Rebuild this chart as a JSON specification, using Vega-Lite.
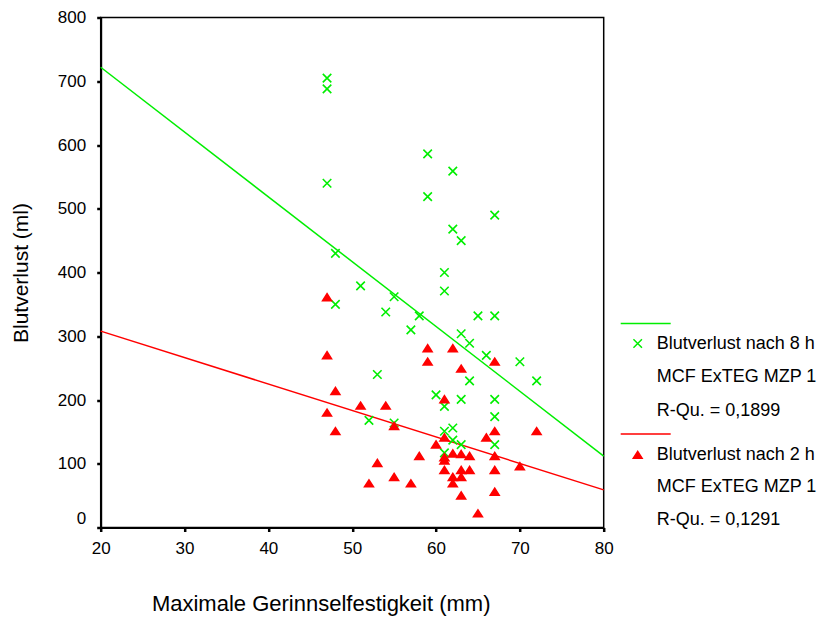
{
  "$schema": "https://vega.github.io/schema/vega-lite/v6.json",
  "width": 503,
  "height": 510,
  "autosize": {"type": "none"},
  "padding": {"left": 100.7, "top": 17.5, "right": 219.3, "bottom": 90.5},
  "background": "white",
  "config": {
    "font": "Liberation Sans",
    "view": {"stroke": "black", "strokeWidth": 1.5},
    "axis": {"grid": false, "domainColor": "black", "domainWidth": 2, "tickColor": "black", "tickWidth": 2.5, "tickSize": 4, "labelFontSize": 17, "labelColor": "black", "labelFont": "Liberation Sans", "titleFont": "Liberation Sans", "titleFontWeight": "normal", "titleColor": "black", "titleFontSize": 21, "labelFlush": false},
    "legend": {"orient": "none", "legendX": 528, "legendY": 317, "padding": 0, "labelFontSize": 18, "labelFont": "Liberation Sans", "labelColor": "black", "labelOffset": 10, "labelLimit": 400, "rowPadding": 7.5, "symbolSize": 100, "symbolStrokeWidth": 1.5, "symbolOpacity": 1}
  },
  "datasets": {
    "punkte": [
      {"mcf": 47, "blut": 705, "serie": "8 h"}, {"mcf": 47, "blut": 688, "serie": "8 h"}, {"mcf": 47, "blut": 540, "serie": "8 h"}, {"mcf": 59, "blut": 586, "serie": "8 h"},
      {"mcf": 62, "blut": 559, "serie": "8 h"}, {"mcf": 59, "blut": 519, "serie": "8 h"}, {"mcf": 67, "blut": 490, "serie": "8 h"}, {"mcf": 62, "blut": 468, "serie": "8 h"},
      {"mcf": 63, "blut": 450, "serie": "8 h"}, {"mcf": 48, "blut": 430, "serie": "8 h"}, {"mcf": 61, "blut": 400, "serie": "8 h"}, {"mcf": 61, "blut": 371, "serie": "8 h"},
      {"mcf": 51, "blut": 379, "serie": "8 h"}, {"mcf": 55, "blut": 362, "serie": "8 h"}, {"mcf": 48, "blut": 350, "serie": "8 h"}, {"mcf": 54, "blut": 338, "serie": "8 h"},
      {"mcf": 58, "blut": 332, "serie": "8 h"}, {"mcf": 65, "blut": 332, "serie": "8 h"}, {"mcf": 67, "blut": 332, "serie": "8 h"}, {"mcf": 57, "blut": 310, "serie": "8 h"},
      {"mcf": 63, "blut": 304, "serie": "8 h"}, {"mcf": 64, "blut": 289, "serie": "8 h"}, {"mcf": 66, "blut": 270, "serie": "8 h"}, {"mcf": 70, "blut": 260, "serie": "8 h"},
      {"mcf": 53, "blut": 240, "serie": "8 h"}, {"mcf": 64, "blut": 230, "serie": "8 h"}, {"mcf": 72, "blut": 230, "serie": "8 h"}, {"mcf": 60, "blut": 208, "serie": "8 h"},
      {"mcf": 63, "blut": 201, "serie": "8 h"}, {"mcf": 67, "blut": 201, "serie": "8 h"}, {"mcf": 61, "blut": 190, "serie": "8 h"}, {"mcf": 67, "blut": 174, "serie": "8 h"},
      {"mcf": 52, "blut": 168, "serie": "8 h"}, {"mcf": 55, "blut": 164, "serie": "8 h"}, {"mcf": 62, "blut": 156, "serie": "8 h"}, {"mcf": 61, "blut": 151, "serie": "8 h"},
      {"mcf": 62, "blut": 137, "serie": "8 h"}, {"mcf": 63, "blut": 130, "serie": "8 h"}, {"mcf": 67, "blut": 130, "serie": "8 h"}, {"mcf": 61, "blut": 117, "serie": "8 h"},
      {"mcf": 47, "blut": 361, "serie": "2 h"}, {"mcf": 47, "blut": 270, "serie": "2 h"}, {"mcf": 59, "blut": 281, "serie": "2 h"}, {"mcf": 62, "blut": 281, "serie": "2 h"},
      {"mcf": 59, "blut": 260, "serie": "2 h"}, {"mcf": 67, "blut": 260, "serie": "2 h"}, {"mcf": 63, "blut": 249, "serie": "2 h"}, {"mcf": 48, "blut": 214, "serie": "2 h"},
      {"mcf": 61, "blut": 201, "serie": "2 h"}, {"mcf": 51, "blut": 191, "serie": "2 h"}, {"mcf": 54, "blut": 191, "serie": "2 h"}, {"mcf": 47, "blut": 180, "serie": "2 h"},
      {"mcf": 48, "blut": 151, "serie": "2 h"}, {"mcf": 55, "blut": 159, "serie": "2 h"}, {"mcf": 67, "blut": 151, "serie": "2 h"}, {"mcf": 72, "blut": 151, "serie": "2 h"},
      {"mcf": 66, "blut": 141, "serie": "2 h"}, {"mcf": 61, "blut": 141, "serie": "2 h"}, {"mcf": 60, "blut": 130, "serie": "2 h"}, {"mcf": 62, "blut": 116, "serie": "2 h"},
      {"mcf": 63, "blut": 115, "serie": "2 h"}, {"mcf": 64, "blut": 112, "serie": "2 h"}, {"mcf": 61, "blut": 110, "serie": "2 h"}, {"mcf": 61, "blut": 105, "serie": "2 h"},
      {"mcf": 67, "blut": 112, "serie": "2 h"}, {"mcf": 58, "blut": 112, "serie": "2 h"}, {"mcf": 70, "blut": 96, "serie": "2 h"}, {"mcf": 53, "blut": 101, "serie": "2 h"},
      {"mcf": 61, "blut": 90, "serie": "2 h"}, {"mcf": 63, "blut": 90, "serie": "2 h"}, {"mcf": 64, "blut": 90, "serie": "2 h"}, {"mcf": 67, "blut": 90, "serie": "2 h"},
      {"mcf": 62, "blut": 79, "serie": "2 h"}, {"mcf": 63, "blut": 79, "serie": "2 h"}, {"mcf": 55, "blut": 79, "serie": "2 h"}, {"mcf": 52, "blut": 69, "serie": "2 h"},
      {"mcf": 57, "blut": 69, "serie": "2 h"}, {"mcf": 62, "blut": 69, "serie": "2 h"}, {"mcf": 67, "blut": 56, "serie": "2 h"}, {"mcf": 63, "blut": 50, "serie": "2 h"},
      {"mcf": 65, "blut": 22, "serie": "2 h"}
    ],
    "linien": [
      {"mcf": 20, "blut": 722, "serie": "8 h"}, {"mcf": 80, "blut": 112, "serie": "8 h"},
      {"mcf": 20, "blut": 308, "serie": "2 h"}, {"mcf": 80, "blut": 59, "serie": "2 h"}
    ]
  },
  "encoding": {
    "x": {"field": "mcf", "type": "quantitative", "scale": {"domain": [20, 80], "nice": false, "zero": false},
      "axis": {"values": [20, 30, 40, 50, 60, 70, 80], "labelPadding": 9, "title": "Maximale Gerinnselfestigkeit (mm)", "titleFontSize": 22, "titleX": 220, "titleY": 76, "titleBaseline": "middle", "titleAlign": "center"}},
    "y": {"field": "blut", "type": "quantitative", "scale": {"domain": [0, 800], "nice": false},
      "axis": {"values": [0, 100, 200, 300, 400, 500, 600, 700, 800], "labelPadding": 11, "labelBaseline": {"condition": {"test": "datum.value == 0", "value": "bottom"}, "value": "middle"}, "title": "Blutverlust (ml)", "titleX": -79, "titleY": 255, "titleAngle": 270, "titleBaseline": "middle", "titleAlign": "center"}}
  },
  "layer": [
    {
      "data": {"name": "linien"},
      "mark": {"type": "line", "strokeWidth": 1.5},
      "encoding": {
        "color": {"field": "serie", "type": "nominal", "scale": {"domain": ["8 h", "2 h"], "range": ["#00ee00", "#ff0000"]}, "legend": null}
      }
    },
    {
      "data": {"name": "punkte"},
      "mark": {"type": "point", "strokeWidth": 1.6, "size": 100, "opacity": 1},
      "encoding": {
        "shape": {"field": "serie", "type": "nominal",
          "scale": {"domain": ["L8", "L8b", "L8c", "L2", "L2b", "L2c", "8 h", "2 h"],
            "range": ["M-3.4,-4H6.6M-0.85,-0.85L0.85,0.85M-0.85,0.85L0.85,-0.85M0,2", "M0,-2M0,2", "M0,-2M0,2", "M-3.4,-4.2H6.6M0,-0.72L0.88,0.66L-0.88,0.66ZM0,1.6", "M0,-2M0,2", "M0,-2M0,2", "M-0.85,-0.85L0.85,0.85M-0.85,0.85L0.85,-0.85", "M0,-0.72L0.88,0.66L-0.88,0.66Z"]},
          "legend": {"title": null, "values": ["L8", "L8b", "L8c", "L2", "L2b", "L2c"],
            "labelExpr": "datum.value == 'L8' ? 'Blutverlust nach 8 h' : datum.value == 'L2' ? 'Blutverlust nach 2 h' : datum.value == 'L8c' ? 'R-Qu. = 0,1899' : datum.value == 'L2c' ? 'R-Qu. = 0,1291' : 'MCF ExTEG MZP 1'"}},
        "stroke": {"field": "serie", "type": "nominal",
          "scale": {"domain": ["L8", "L8b", "L8c", "L2", "L2b", "L2c", "8 h", "2 h"],
            "range": ["#00ee00", "transparent", "transparent", "#ff0000", "transparent", "transparent", "#00ee00", "#ff0000"]},
          "legend": {"title": null, "values": ["L8", "L8b", "L8c", "L2", "L2b", "L2c"],
            "labelExpr": "datum.value == 'L8' ? 'Blutverlust nach 8 h' : datum.value == 'L2' ? 'Blutverlust nach 2 h' : datum.value == 'L8c' ? 'R-Qu. = 0,1899' : datum.value == 'L2c' ? 'R-Qu. = 0,1291' : 'MCF ExTEG MZP 1'"}},
        "fill": {"field": "serie", "type": "nominal",
          "scale": {"domain": ["L8", "L8b", "L8c", "L2", "L2b", "L2c", "8 h", "2 h"],
            "range": ["transparent", "transparent", "transparent", "#ff0000", "transparent", "transparent", "transparent", "#ff0000"]},
          "legend": {"title": null, "values": ["L8", "L8b", "L8c", "L2", "L2b", "L2c"],
            "labelExpr": "datum.value == 'L8' ? 'Blutverlust nach 8 h' : datum.value == 'L2' ? 'Blutverlust nach 2 h' : datum.value == 'L8c' ? 'R-Qu. = 0,1899' : datum.value == 'L2c' ? 'R-Qu. = 0,1291' : 'MCF ExTEG MZP 1'"}}
      }
    }
  ]
}
